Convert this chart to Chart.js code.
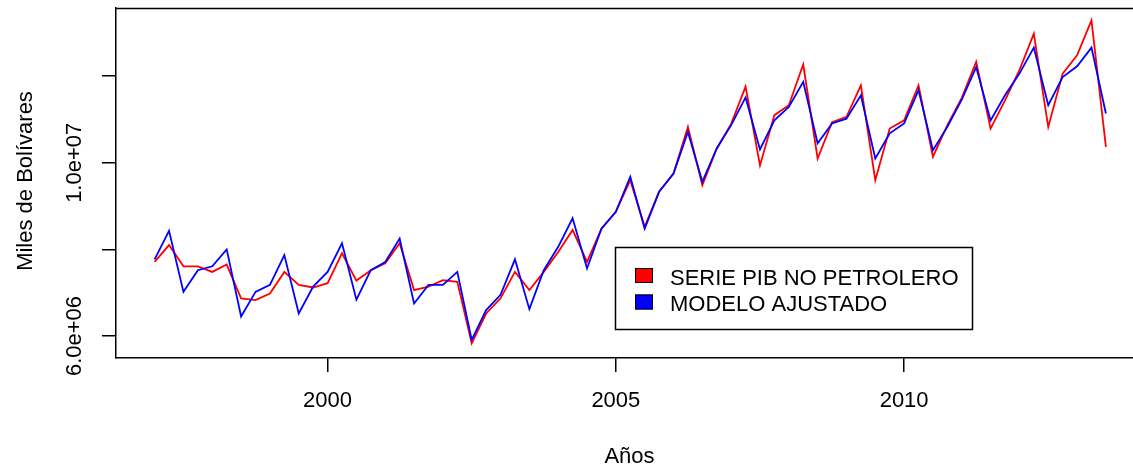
<!DOCTYPE html>
<html>
<head>
<meta charset="utf-8">
<script src="https://cdn.jsdelivr.net/npm/chart.js@4.4.1/dist/chart.umd.min.js"></script>
<style>
  html, body { margin: 0; padding: 0; background: #fff; overflow: hidden; }
  #wrap { width: 1133px; height: 466px; position: relative; }
</style>
</head>
<body>
<div id="wrap"><canvas id="c" width="1133" height="466"></canvas></div>
<script>
// Quarterly series, first observation 1997 Q1 (miles de bolívares)
const startYear = 1997;
const periodsPerYear = 4;

const pibNoPetrolero = [
  7710000, 8100000, 7610000, 7610000, 7480000, 7650000, 6870000, 6830000,
  6980000, 7480000, 7180000, 7120000, 7220000, 7910000, 7280000, 7520000,
  7680000, 8140000, 7060000, 7140000, 7290000, 7250000, 5830000, 6520000,
  6870000, 7480000, 7060000, 7480000, 7940000, 8450000, 7710000, 8480000,
  8870000, 9600000, 8520000, 9330000, 9750000, 10830000, 9480000, 10330000,
  10900000, 11760000, 9940000, 11100000, 11330000, 12270000, 10100000, 10940000,
  11060000, 11790000, 9600000, 10790000, 10980000, 11790000, 10140000, 10870000,
  11500000, 12330000, 10790000, 11440000, 12140000, 12980000, 10830000, 12060000,
  12480000, 13290000, 10370000
];

const modeloAjustado = [
  7770000, 8430000, 7020000, 7520000, 7610000, 8000000, 6450000, 7020000,
  7180000, 7870000, 6520000, 7140000, 7480000, 8140000, 6840000, 7520000,
  7710000, 8250000, 6750000, 7180000, 7180000, 7480000, 5910000, 6600000,
  6950000, 7770000, 6620000, 7520000, 8060000, 8720000, 7560000, 8480000,
  8870000, 9680000, 8480000, 9330000, 9750000, 10710000, 9560000, 10330000,
  10870000, 11510000, 10310000, 10980000, 11290000, 11870000, 10450000, 10910000,
  11020000, 11560000, 10100000, 10680000, 10910000, 11680000, 10290000, 10830000,
  11460000, 12210000, 10980000, 11560000, 12060000, 12660000, 11330000, 11980000,
  12230000, 12660000, 11140000
];

const seriesLabels = ['SERIE PIB NO PETROLERO', 'MODELO AJUSTADO'];
const seriesColors = ['#ff0000', '#0000ff'];

const xTickValues = [2000, 2005, 2010];
const yTickValues = [6000000, 8000000, 10000000, 12000000];
const yTickLabels = ['6.0e+06', '', '1.0e+07', ''];

const xTitle = 'Años';
const yTitle = 'Miles de Bolívares';

const FONT = '"Liberation Sans", Arial, sans-serif';

const toPoints = arr => arr.map((v, i) => ({ x: startYear + i / periodsPerYear, y: v }));

// Box top edge, rotated y labels, axis titles and the boxed legend
const framePlugin = {
  id: 'frame',
  afterDraw(chart) {
    const { ctx, chartArea: a, scales: { y } } = chart;
    ctx.save();
    ctx.strokeStyle = '#000';
    ctx.lineWidth = 1.5;
    ctx.beginPath();
    ctx.moveTo(a.left, a.top + 0.5);
    ctx.lineTo(a.right, a.top + 0.5);
    ctx.stroke();

    ctx.fillStyle = '#000';
    ctx.font = '22px ' + FONT;
    ctx.textAlign = 'center';
    ctx.textBaseline = 'alphabetic';

    yTickValues.forEach((v, i) => {
      const t = yTickLabels[i];
      if (!t) return;
      const py = y.getPixelForValue(v);
      ctx.save();
      ctx.translate(81, py);
      ctx.rotate(-Math.PI / 2);
      ctx.fillText(t, 0, 0);
      ctx.restore();
    });

    ctx.save();
    ctx.translate(31.5, (a.top + a.bottom) / 2 - 2);
    ctx.rotate(-Math.PI / 2);
    ctx.fillText(yTitle, 0, 0);
    ctx.restore();

    ctx.fillText(xTitle, 629.5, 463);

    // legend
    const lx = 615, ly = 247, lw = 357, lh = 82;
    ctx.fillStyle = '#fff';
    ctx.fillRect(lx, ly, lw, lh);
    ctx.lineWidth = 1.5;
    ctx.strokeStyle = '#000';
    ctx.strokeRect(lx + 0.5, ly + 0.5, lw, lh);
    ctx.textAlign = 'left';
    chart.data.datasets.forEach((ds, i) => {
      const rowY = 268 + i * 26.5;
      ctx.fillStyle = ds.borderColor;
      ctx.fillRect(635, rowY, 18, 15);
      ctx.lineWidth = 1;
      ctx.strokeRect(635.5, rowY + 0.5, 17, 14);
      ctx.fillStyle = '#000';
      ctx.fillText(ds.label, 670, rowY + 16.5);
    });
    ctx.restore();
  }
};

const axisGrid = {
  display: true,
  drawOnChartArea: false,
  drawTicks: true,
  tickLength: 14,
  color: '#000',
  lineWidth: 1.5
};

new Chart(document.getElementById('c'), {
  type: 'line',
  data: {
    datasets: [
      {
        label: seriesLabels[0],
        data: toPoints(pibNoPetrolero),
        borderColor: seriesColors[0],
        borderWidth: 1.8,
        pointRadius: 0,
        tension: 0,
        order: 1
      },
      {
        label: seriesLabels[1],
        data: toPoints(modeloAjustado),
        borderColor: seriesColors[1],
        borderWidth: 1.8,
        pointRadius: 0,
        tension: 0,
        order: 0
      }
    ]
  },
  options: {
    responsive: false,
    animation: false,
    devicePixelRatio: 1,
    layout: { padding: { top: 8, left: 0, right: 0, bottom: 0 } },
    plugins: { legend: { display: false }, tooltip: { enabled: false } },
    scales: {
      x: {
        type: 'linear',
        min: 1996.33,
        max: 2013.97,
        afterBuildTicks: s => { s.ticks = xTickValues.map(v => ({ value: v })); },
        afterFit: s => { s.height = 108; },
        grid: axisGrid,
        border: { display: true, color: '#000', width: 1.5 },
        ticks: {
          color: '#000',
          font: { family: FONT, size: 22 },
          padding: 16,
          maxRotation: 0,
          autoSkip: false,
          callback: v => String(v)
        }
      },
      y: {
        type: 'linear',
        min: 5492000,
        max: 13575000,
        afterBuildTicks: s => { s.ticks = yTickValues.map(v => ({ value: v })); },
        afterFit: s => { s.width = 116; },
        grid: axisGrid,
        border: { display: true, color: '#000', width: 1.5 },
        ticks: { display: false }
      }
    }
  },
  plugins: [framePlugin]
});
</script>
</body>
</html>
